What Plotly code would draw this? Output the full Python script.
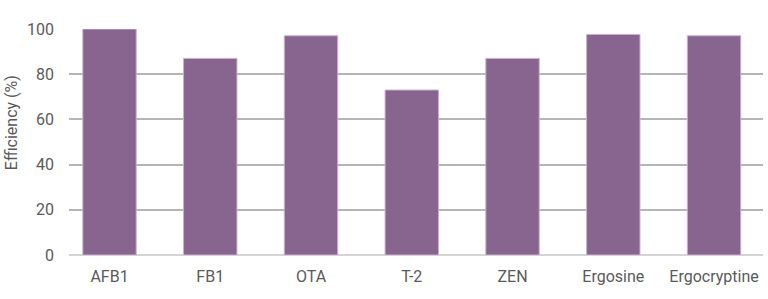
import plotly.graph_objects as go

categories = ["AFB1", "FB1", "OTA", "T-2", "ZEN", "Ergosine", "Ergocryptine"]
efficiency = [100, 87, 97, 73, 87, 97.6, 97]
y_ticks = [0, 20, 40, 60, 80, 100]

FONT = "Roboto, sans-serif"
TXT = "#5a5a5a"

fig = go.Figure(go.Bar(
    x=list(range(len(categories))),
    y=efficiency,
    width=0.53,
    marker=dict(color="#87658f", line=dict(color="#c9b0d0", width=1)),
    hoverinfo="x+y",
))

fig.update_layout(
    width=768, height=299,
    margin=dict(l=69, r=5, t=29, b=44),
    plot_bgcolor="white", paper_bgcolor="white",
    showlegend=False,
    font=dict(family=FONT, size=16, color=TXT),
    xaxis=dict(
        range=[-0.402, 6.486],
        tickmode="array",
        tickvals=list(range(len(categories))),
        ticktext=categories,
        showgrid=False, zeroline=False, showline=False,
        ticks="", ticklen=0,
        ticklabelstandoff=10,
        tickfont=dict(family=FONT, size=16, color=TXT),
    ),
    yaxis=dict(
        range=[0, 100],
        tickmode="array",
        tickvals=y_ticks,
        showgrid=True, gridcolor="#b5b5b5", gridwidth=1.5,
        zeroline=True, zerolinecolor="#d4d4d4", zerolinewidth=2,
        showline=False, ticks="",
        ticklabelstandoff=14,
        tickfont=dict(family=FONT, size=16, color=TXT),
    ),
    annotations=[dict(
        text="Efficiency (%)", textangle=-90,
        xref="paper", yref="paper", x=-0.083, y=0.585,
        xanchor="center", yanchor="middle", showarrow=False,
        font=dict(family=FONT, size=16, color=TXT),
    )],
)

fig.write_html("out.html")
